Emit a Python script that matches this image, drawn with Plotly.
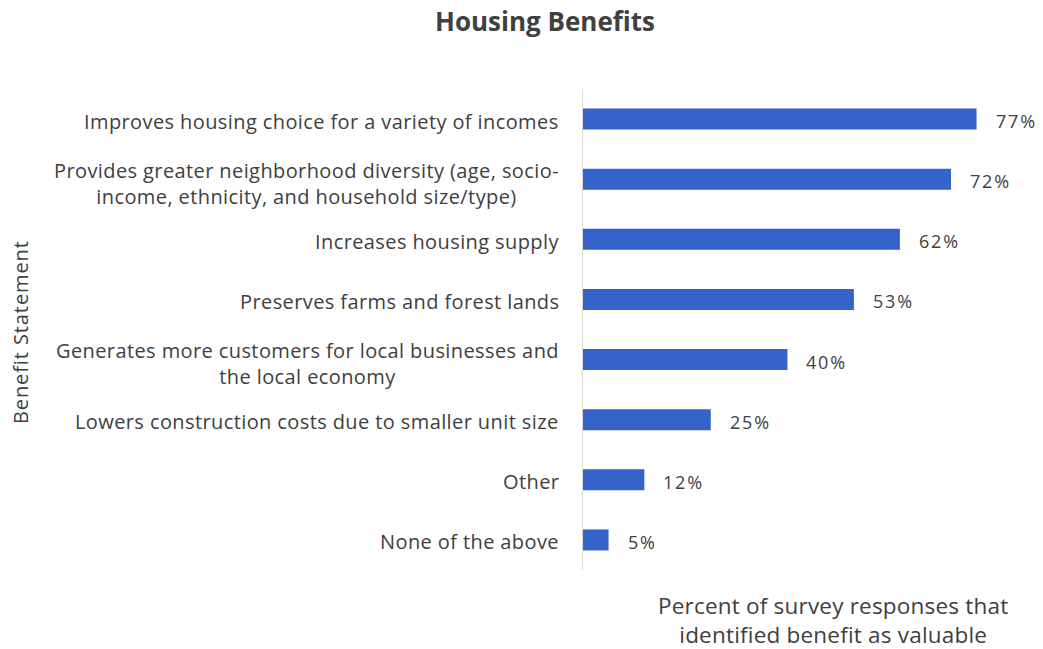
import plotly.graph_objects as go

# Survey results: share of responses naming each benefit as valuable
benefits = [
    "Improves housing choice for a variety of incomes",
    "Provides greater neighborhood diversity (age, socio-<br>income, ethnicity, and household size/type)",
    "Increases housing supply",
    "Preserves farms and forest lands",
    "Generates more customers for local businesses and<br>the local economy",
    "Lowers construction costs due to smaller unit size",
    "Other",
    "None of the above",
]
percent = [77, 72, 62, 53, 40, 25, 12, 5]
value_labels = [f"{v}%" for v in percent]

FONT = "Open Sans"
TEXT_COLOR = "#404040"
BAR_COLOR = "#3563C9"

# Plot area spans x = 583..1043 px and y = 89..570 px
PLOT_LEFT, PLOT_WIDTH = 583, 460
PLOT_BOTTOM, PLOT_HEIGHT = 79, 481


def paper_x(px):
    return (px - PLOT_LEFT) / PLOT_WIDTH


def paper_y(px_from_top):
    return (649 - PLOT_BOTTOM - px_from_top) / PLOT_HEIGHT


def spaced(text, px):
    return f'<span style="letter-spacing:{px}px">{text}</span>'


fig = go.Figure(
    go.Bar(
        x=percent,
        y=benefits,
        orientation="h",
        width=0.35,
        marker=dict(color=BAR_COLOR, line=dict(width=0)),
        hoverinfo="x+y",
    )
)

# Value labels just past the end of each bar
for name, v, lab in zip(benefits, percent, value_labels):
    fig.add_annotation(
        x=v, xref="x", y=name, yref="y",
        text=spaced(lab, 1.8),
        showarrow=False, xanchor="left", yanchor="middle",
        xshift=17, yshift=-2,
        font=dict(family=FONT, size=18, color=TEXT_COLOR),
    )

# Category labels drawn as centred multi-line text, right-aligned to the axis
for name in benefits:
    two_line = "<br>" in name
    fig.add_annotation(
        x=0, xref="paper", y=name, yref="y",
        text="<br>".join(spaced(part, 0.4) for part in name.split("<br>")),
        showarrow=False,
        xanchor="right", yanchor="middle", align="center",
        xshift=-22, yshift=-4 if two_line else -2,
        font=dict(family=FONT, size=20, color=TEXT_COLOR),
    )

# Axis titles
fig.add_annotation(
    x=paper_x(20), xref="paper", y=paper_y(332), yref="paper",
    text=spaced("Benefit Statement", 0.9), showarrow=False, textangle=-90,
    xanchor="center", yanchor="middle",
    font=dict(family=FONT, size=20, color=TEXT_COLOR),
)
fig.add_annotation(
    x=paper_x(833), xref="paper", y=0, yref="paper",
    text=spaced("Percent of survey responses that", 0.2) + "<br>"
    + spaced("identified benefit as valuable", 0.2),
    showarrow=False, xanchor="center", yanchor="top", align="center",
    yshift=-18,
    font=dict(family=FONT, size=22.5, color=TEXT_COLOR),
)

fig.update_layout(
    width=1043, height=649,
    margin=dict(l=PLOT_LEFT, r=0, t=89, b=PLOT_BOTTOM),
    paper_bgcolor="white", plot_bgcolor="white",
    showlegend=False,
    title=dict(
        text="<b>Housing Benefits</b>",
        x=545 / 1043, xanchor="center", y=1 - 22 / 649, yanchor="middle",
        font=dict(family=FONT, size=26, color=TEXT_COLOR),
    ),
    xaxis=dict(
        range=[0, 90.0], showgrid=False, zeroline=False,
        showticklabels=False, showline=False, ticks="",
    ),
    yaxis=dict(
        autorange="reversed", showgrid=False, zeroline=False,
        showticklabels=False, ticks="",
        showline=True, linecolor="#D9D9D9", linewidth=1,
    ),
    bargap=0.65,
)

fig.write_html("out.html")
